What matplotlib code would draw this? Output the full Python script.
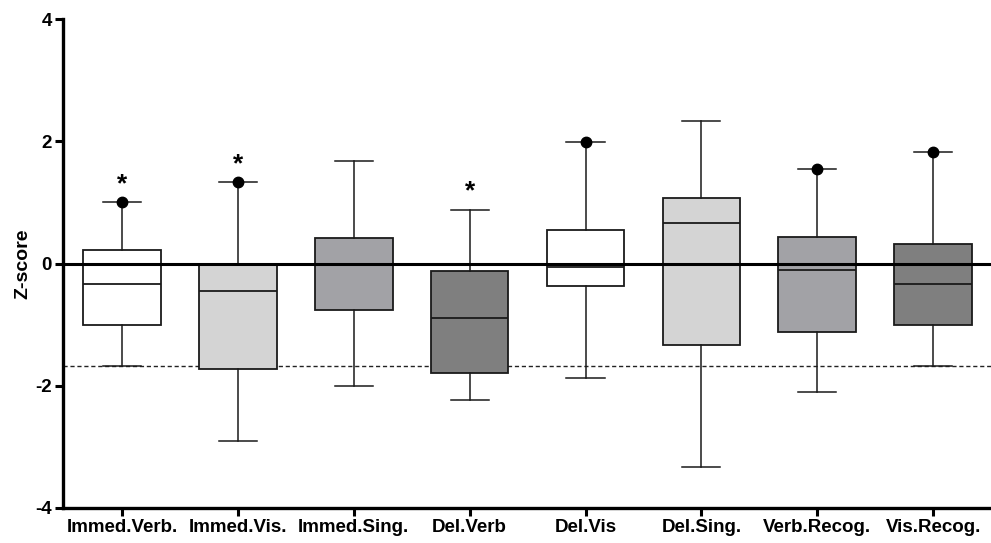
import matplotlib
matplotlib.use("Agg")
import matplotlib.pyplot as plt

plt.rcParams['font.family'] = ['Liberation Sans', 'DejaVu Sans']
plt.rcParams['axes.unicode_minus'] = False

categories = ["Immed.Verb.", "Immed.Vis.", "Immed.Sing.", "Del.Verb",
              "Del.Vis", "Del.Sing.", "Verb.Recog.", "Vis.Recog."]
whislo = [-1.68, -2.90, -2.00, -2.23, -1.87, -3.33, -2.11, -1.67]
q1     = [-1.00, -1.73, -0.76, -1.79, -0.36, -1.33, -1.12, -1.00]
med    = [-0.34, -0.45,  0.00, -0.89, -0.06,  0.67, -0.11, -0.33]
q3     = [ 0.22,  0.00,  0.41, -0.12,  0.55,  1.07,  0.44,  0.32]
whishi = [ 1.00,  1.33,  1.67,  0.88,  1.99,  2.33,  1.55,  1.82]
# boxes whose maximum is marked with a dot, and those flagged as significant
max_dot = [True, True, False, False, True, False, True, True]
significant = [True, True, False, True, False, False, False, False]
cutoff = -1.67

fills = ["#ffffff", "#d4d4d4", "#a2a2a6", "#7f7f7f"] * 2

fig = plt.figure(figsize=(9.91, 5.43), dpi=100)
ax = fig.add_axes([63 / 991, 1 - 508 / 543, (991 - 63) / 991, (508 - 19) / 543])

stats = [dict(whislo=lo, q1=a, med=m, q3=b, whishi=hi, label=c)
         for lo, a, m, b, hi, c in zip(whislo, q1, med, q3, whishi, categories)]
pos = list(range(len(categories)))
bp = ax.bxp(stats, positions=pos, widths=0.67, showfliers=False,
            patch_artist=True,
            boxprops=dict(edgecolor="#1a1a1a", linewidth=1.3),
            medianprops=dict(color="#1a1a1a", linewidth=1.3),
            whiskerprops=dict(color="#1a1a1a", linewidth=1.1),
            capprops=dict(color="#1a1a1a", linewidth=1.1),
            capwidths=0.33, zorder=3)
for patch, col in zip(bp["boxes"], fills):
    patch.set_facecolor(col)

ax.axhline(0, color="black", linewidth=2.2, zorder=4)
ax.axhline(cutoff, color="#222222", linewidth=1.0, linestyle=(0, (3, 2)), zorder=2)

for x, hi, dot, sig in zip(pos, whishi, max_dot, significant):
    if dot:
        ax.plot(x, hi, "o", color="black", markersize=7.5, zorder=5)
    if sig:
        ax.text(x, hi + 0.30, "*", ha="center", va="center",
                fontsize=19, fontweight="bold", zorder=5)

ax.set_xlim(-0.51, 7.5)
ax.set_ylim(-4, 4)
ax.set_yticks([-4, -2, 0, 2, 4])
ax.set_xticks(pos)
ax.set_xticklabels(categories)
ax.set_ylabel("Z-score", fontsize=14, fontweight="bold", labelpad=3)

for lab in ax.get_xticklabels() + ax.get_yticklabels():
    lab.set_fontweight("bold")
    lab.set_fontsize(13.5)

ax.tick_params(axis="both", direction="out", length=6, width=2.2, pad=2)
for side in ["top", "right"]:
    ax.spines[side].set_visible(False)
for side in ["left", "bottom"]:
    ax.spines[side].set_linewidth(2.4)

fig.savefig("out.png", dpi=100)
